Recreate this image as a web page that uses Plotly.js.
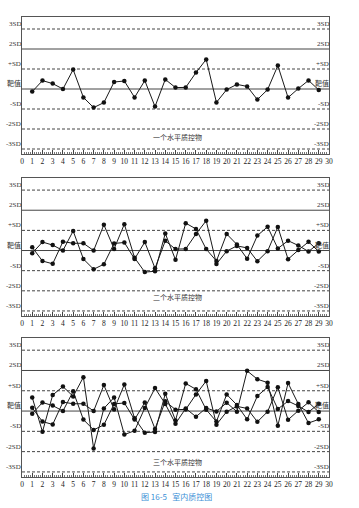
<!DOCTYPE html>
<html>
<head>
<meta charset="utf-8">
<script src="https://cdn.plot.ly/plotly-3.0.1.min.js"></script>
<style>html,body{margin:0;padding:0;background:#fff;}#chart{width:359px;height:508px;}</style>
</head>
<body>
<div id="chart"></div>
<script>
// Run numbers (x axis) and control results in SD units
const runs = [1,2,3,4,5,6,7,8,9,10,11,12,13,14,15,16,17,18,19,20,21,22,23,24,25,26,27,28,29];
const level1 = [-0.13,0.42,0.27,0,0.97,-0.42,-0.93,-0.68,0.35,0.4,-0.42,0.42,-0.88,0.48,0.07,0.08,0.82,1.48,-0.67,-0.03,0.23,0.13,-0.53,-0.03,1.17,-0.43,0.02,0.43,-0.05];
const level2 = [0.16,-0.52,-0.66,0.44,0.36,0.36,0,1.28,0.08,1.31,-0.36,-1.07,-1.03,0.85,-0.46,1.36,1.07,0.07,-0.52,0.82,0.3,-0.41,0.74,1.18,0.1,0.49,0.25,-0.05,0.36];
const level3 = [0.67,-1.02,0.79,1.21,0.72,1.67,-1.84,0.13,0.67,-1.16,-0.97,0.15,1.13,0.35,-0.62,0.13,-0.28,0.15,-0.02,0.41,-0.03,1.98,1.57,1.4,-0.72,1.38,0.35,-0.59,-0.41];

const sdLevels = [3,2,1,0,-1,-2,-3];
const leftLabels = ["3SD","2SD","+SD","靶值","-SD","-2SD","-3SD"];
const rightLabels = ["3SD","2SD","+SD","靶值","-SD","-2SD","-3SD"];
const solidLevels = [2,0];
const panelTitles = ["一个水平质控物","二个水平质控物","三个水平质控物"];
const panelTitleY = [-2.4,-2.33,-2.49];
const caption = "图 16-5\u00a0\u00a0\u00a0室内质控图";

const panels = [[level1],[level1,level2],[level1,level2,level3]];
const domains = [[1-154/508,1-17/508],[1-316/508,1-178/508],[1-477/508,1-338/508]];

const serif = "Liberation Serif, DejaVu Serif, Noto Sans CJK SC, serif";
const data = [];
const shapes = [];
const annotations = [];
const layout = {
  width:359, height:508,
  margin:{l:22,r:30,t:0,b:0},
  paper_bgcolor:'#fff', plot_bgcolor:'#fff',
  showlegend:false,
  shapes:shapes, annotations:annotations
};

panels.forEach((series,i)=>{
  const sfx = i===0 ? '' : String(i+1);
  const xa = 'x'+sfx, ya = 'y'+sfx;
  series.forEach(vals=>{
    data.push({x:runs,y:vals,xaxis:xa,yaxis:ya,type:'scatter',mode:'lines+markers',
      line:{color:'#1a1a1a',width:1},marker:{color:'#111',size:4.5},hoverinfo:'skip'});
  });
  layout['xaxis'+sfx] = {
    anchor:ya, domain:[0,1], range:[0,30], tick0:0, dtick:1,
    ticks:'inside', ticklen:4, tickwidth:1, tickcolor:'#444',
    minor:{dtick:0.2, ticks:'inside', ticklen:2, tickcolor:'#555', tickwidth:0.8},
    showline:true, linecolor:'#555', linewidth:1, mirror:true,
    showgrid:false, zeroline:false,
    tickfont:{family:serif,size:7.5,color:'#222222'}
  };
  layout['yaxis'+sfx] = {
    anchor:xa, domain:domains[i], range:[-3.25,3.6],
    showticklabels:false, ticks:'', showgrid:false, zeroline:false,
    showline:true, linecolor:'#555', linewidth:1, mirror:true
  };
  sdLevels.forEach((lv,k)=>{
    const solid = solidLevels.indexOf(lv)>=0;
    shapes.push({type:'line',xref:xa,yref:ya,x0:0,x1:30,y0:lv,y1:lv,layer:'below',
      line:{color:'#444',width:1,dash:solid?'solid':'3px,2px'}});
    annotations.push({xref:xa,yref:ya,x:0,y:lv,xanchor:'right',yanchor:'bottom',xshift:1,yshift:-1,
      text:leftLabels[k],showarrow:false,font:{family:serif,size:7,color:'#333'}});
    annotations.push({xref:xa,yref:ya,x:30,y:lv,xanchor:'right',yanchor:'bottom',xshift:2,yshift:-1,
      text:rightLabels[k],showarrow:false,font:{family:serif,size:7,color:'#333'}});
  });
  annotations.push({xref:xa,yref:ya,x:15.2,y:panelTitleY[i],xanchor:'center',yanchor:'middle',
    text:panelTitles[i],showarrow:false,font:{family:"Noto Sans CJK SC",size:7,color:'#333'}});
});

annotations.push({xref:'paper',yref:'paper',x:0.503,y:1-496/508,xanchor:'center',yanchor:'middle',
  text:caption,showarrow:false,font:{family:"Noto Sans CJK SC",size:8,color:'#3b8fd6'}});

Plotly.newPlot('chart',data,layout,{staticPlot:true,displayModeBar:false});
</script>
</body>
</html>
